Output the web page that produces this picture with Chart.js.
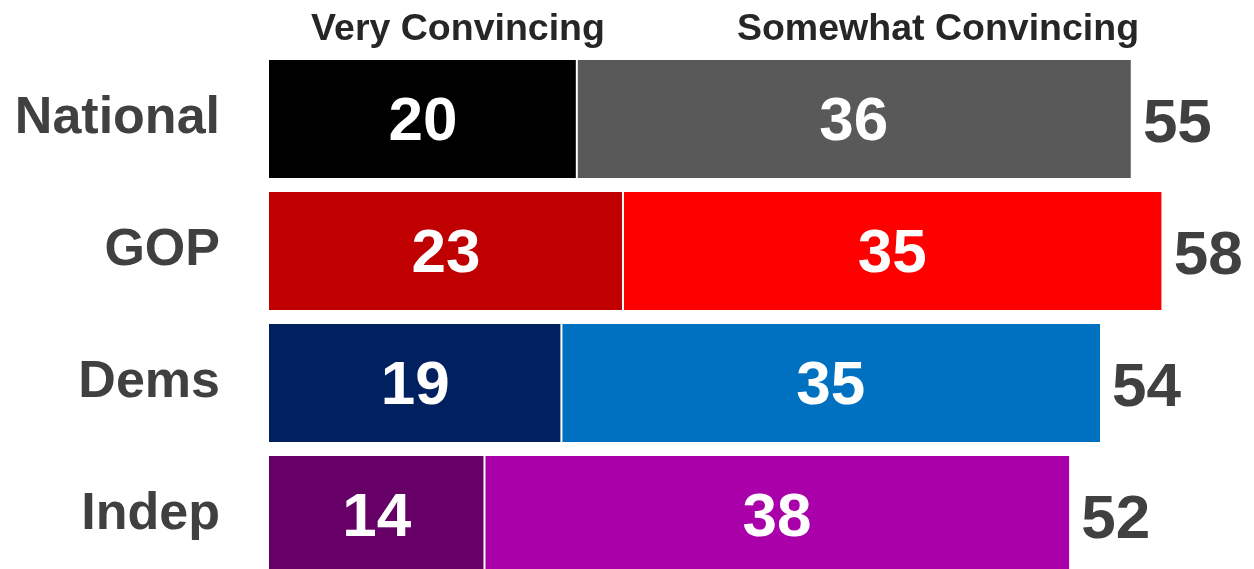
<!DOCTYPE html>
<html>
<head>
<meta charset="utf-8">
<script src="https://cdn.jsdelivr.net/npm/chart.js@4"></script>
<style>
  html, body { margin: 0; padding: 0; background: #fff; overflow: hidden; }
  #wrap { width: 1254px; height: 590px; }
</style>
</head>
<body>
<div id="wrap"><canvas id="bar-chart" width="1254" height="590"></canvas></div>
<script>
const groups = ['National', 'GOP', 'Dems', 'Indep'];
const veryConvincing = [20, 23, 19, 14];
const somewhatConvincing = [36, 35, 35, 38];
const totals = [55, 58, 54, 52];
const veryColors = ['#000000', '#c00000', '#002060', '#660066'];
const somewhatColors = ['#595959', '#ff0000', '#0070c0', '#a900a9'];
const headers = [
  { text: 'Very Convincing', x: 458 },
  { text: 'Somewhat Convincing', x: 938 }
];

const FONT = '"Liberation Sans", Arial, sans-serif';

const labelsPlugin = {
  id: 'barLabels',
  afterDatasetsDraw(chart) {
    const ctx = chart.ctx;
    ctx.save();
    ctx.font = 'bold 62px ' + FONT;
    ctx.textBaseline = 'middle';

    chart.data.datasets.forEach((ds, i) => {
      const meta = chart.getDatasetMeta(i);
      meta.data.forEach((bar, j) => {
        ctx.fillStyle = '#ffffff';
        ctx.textAlign = 'center';
        ctx.fillText(String(ds.data[j]), (bar.x + bar.base) / 2, bar.y + 4);

        // total at the end of the bar
        if (i === chart.data.datasets.length - 1) {
          ctx.fillStyle = '#404040';
          ctx.textAlign = 'left';
          ctx.fillText(String(totals[j]), bar.x + 12, bar.y + 6);
        }
      });
    });

    ctx.font = 'bold 37.5px ' + FONT;
    ctx.fillStyle = '#262626';
    ctx.textAlign = 'center';
    ctx.textBaseline = 'alphabetic';
    headers.forEach(h => ctx.fillText(h.text, h.x, 40));
    ctx.restore();
  }
};

new Chart(document.getElementById('bar-chart'), {
  type: 'bar',
  data: {
    labels: groups,
    datasets: [{
      label: 'Very Convincing',
      data: veryConvincing,
      backgroundColor: veryColors,
      borderColor: '#ffffff',
      borderWidth: { top: 0, right: 1, bottom: 0, left: 0 },
      borderSkipped: false
    }, {
      label: 'Somewhat Convincing',
      data: somewhatConvincing,
      backgroundColor: somewhatColors,
      borderColor: '#ffffff',
      borderWidth: { top: 0, right: 0, bottom: 0, left: 1 },
      borderSkipped: false
    }]
  },
  options: {
    indexAxis: 'y',
    responsive: false,
    animation: false,
    layout: { padding: { top: 53, bottom: 9, left: 0, right: 0 } },
    datasets: { bar: { categoryPercentage: 0.894, barPercentage: 1 } },
    scales: {
      x: { stacked: true, min: 0, max: 64, display: false },
      y: {
        stacked: true,
        grid: { display: false, drawTicks: false },
        border: { display: false },
        ticks: {
          padding: 49,
          color: '#404040',
          font: { family: FONT, size: 52, weight: 'bold' }
        },
        afterFit(scale) {
          scale.width = 269;
          scale.paddingTop = 0;
          scale.paddingBottom = 0;
        }
      }
    },
    plugins: {
      legend: { display: false },
      tooltip: { enabled: false }
    }
  },
  plugins: [labelsPlugin]
});
</script>
</body>
</html>
